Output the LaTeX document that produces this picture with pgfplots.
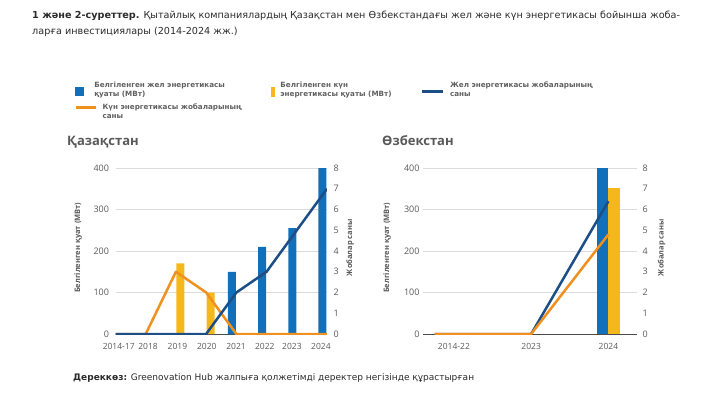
\documentclass[border=0pt]{standalone}
\usepackage{pgfplots}
\pgfplotsset{compat=1.18}
\usepackage{fontspec}
\setmainfont{Open Sans}
\newfontfamily\capfont{DejaVu Sans}
\definecolor{kblue}{HTML}{1170B9}
\definecolor{kyellow}{HTML}{F4B81C}
\definecolor{kdark}{HTML}{1D4F86}
\definecolor{korange}{HTML}{F0901F}
\definecolor{ktext}{HTML}{595959}
\definecolor{klgd}{HTML}{606060}
\definecolor{kcap}{HTML}{2B2B2B}
\newcommand{\lgd}[4][0bp]{\makebox[#2][l]{\hspace{#1}\begin{tabular}[t]{@{}l@{}}#3\\#4\end{tabular}}}
\pgfplotsset{
  base/.style={scale only axis, height=166bp, ymin=0,
    major tick length=0pt,
    tick label style={font=\fontsize{9bp}{10bp}\selectfont, text=ktext},
    xticklabel style={font=\fontsize{8.5bp}{10bp}\selectfont, yshift=-6bp},
    /pgf/number format/assume math mode=true,
    label style={font=\bfseries\fontsize{7.5bp}{9bp}\selectfont, text=ktext},
  },
  leftax/.style={base, ymax=400, ytick={0,100,200,300,400},
    ymajorgrids, grid style={draw=black!14, line width=0.7bp},
    axis x line*=bottom, axis y line*=left,
    y axis line style={draw=none},
    x axis line style={-, draw=black!70, line width=0.6bp},
  },
  rightax/.style={base, ymax=8, ytick={0,1,...,8},
    axis x line=none, axis y line*=right,
    y axis line style={draw=none},
  },
}
\begin{document}
\begin{tikzpicture}
\path[use as bounding box] (0,0) rectangle (727bp,-406bp);
\node[anchor=base west, inner sep=0, text=kcap, font=\capfont\fontsize{9.65bp}{12bp}\selectfont] at (32bp,-18bp)
 {\textbf{1 және 2-суреттер.} Қытайлық компаниялардың Қазақстан мен Өзбекстандағы жел және күн энергетикасы бойынша жоба-};
\node[anchor=base west, inner sep=0, text=kcap, font=\capfont\fontsize{9.65bp}{12bp}\selectfont] at (32bp,-34bp)
 {ларға инвестициялары (2014-2024 жж.)};
\node[anchor=base west, inner sep=0, text=ktext, font=\bfseries\fontsize{13bp}{15bp}\selectfont] at (67bp,-145bp) {Қазақстан};
\node[anchor=base west, inner sep=0, text=ktext, font=\bfseries\fontsize{13bp}{15bp}\selectfont] at (382bp,-145bp) {Өзбекстан};
\node[anchor=base west, inner sep=0, text=kcap, font=\capfont\fontsize{9bp}{11bp}\selectfont] at (73bp,-380bp)
 {\textbf{Дереккөз:} Greenovation Hub жалпыға қолжетімді деректер негізінде құрастырған};

% ---------- Kazakhstan ----------
\begin{axis}[leftax, at={(115.5bp,-334bp)}, anchor=south west, width=211.5bp,
  xmin=0, xmax=7, xtick={0.106,1.076,2.05,3.02,3.99,4.94,5.84,6.80},
  xticklabels={2014-17,2018,2019,2020,2021,2022,2023,2024},
  yticklabel style={xshift=-3bp},
  ylabel={Белгіленген қуат (МВт)},
  ylabel style={at={(axis description cs:-0.177,0.52)}, anchor=center},
  legend columns=3,
  legend style={at={(-0.1948,1.5229)}, anchor=north west, draw=none, fill=none,
    inner sep=0pt, outer sep=0pt, nodes={inner sep=0pt, outer sep=0pt},
    cells={anchor=base west},
    column sep=0pt, row sep=6.5bp,
    /tikz/every odd column/.append style={column sep=5.7bp},
    /tikz/every even column/.append style={column sep=0pt},
    font=\capfont\bfseries\fontsize{7.2bp}{9bp}\selectfont, text=klgd},
]
\addlegendimage{legend image code/.code={\fill[kblue] (0bp,-7.8bp) rectangle (8bp,0.2bp);}}
\addlegendentry{\lgd[-8.3bp]{168.3bp}{Белгіленген жел энергетикасы}{қуаты (МВт)}}
\addlegendimage{legend image code/.code={\fill[kyellow] (0bp,-9bp) rectangle (3.4bp,0bp);}}
\addlegendentry{\lgd{140.3bp}{Белгіленген күн}{энергетикасы қуаты (МВт)}}
\addlegendimage{legend image code/.code={\draw[kdark, line width=2.6bp] (0bp,-4bp) -- (21.1bp,-4bp);}}
\addlegendentry{\lgd{160bp}{Жел энергетикасы жобаларының}{саны}}
\addlegendimage{legend image code/.code={\draw[korange, line width=2.6bp] (0bp,2bp) -- (20bp,2bp);}}
\addlegendentry{\lgd{168.3bp}{Күн энергетикасы жобаларының}{саны}}
\addplot[forget plot, ybar, bar width=8bp, bar shift=-4.5bp, fill=kblue, draw=none]
  coordinates {(4,150) (5,210) (6,255) (7,400)};
\addplot[forget plot, ybar, bar width=8bp, bar shift=4.5bp, fill=kyellow, draw=none]
  coordinates {(2,170) (3,100)};
\end{axis}
\begin{axis}[rightax, at={(115.5bp,-334bp)}, anchor=south west, width=211.5bp,
  xmin=0, xmax=7,
  yticklabel style={xshift=3bp},
  ylabel={Жобалар саны},
  ylabel style={at={(axis description cs:1.109,0.52)}, anchor=center},
]
\addplot[korange, line width=2.5bp, line join=round] coordinates {(0,0) (1,0) (2,3) (3,2) (4,0) (5,0) (6,0) (7,0)};
\addplot[kdark, line width=2.5bp, line join=round] coordinates {(0,0) (1,0) (2,0) (3,0) (4,2) (5,3) (6,5) (7,7)};
\end{axis}

% ---------- Uzbekistan ----------
\begin{axis}[leftax, at={(423bp,-334bp)}, anchor=south west, width=214bp,
  xmin=-0.4, xmax=2.37, xtick={0,1,2},
  xticklabels={2014-22,2023,2024},
  ylabel={Белгіленген қуат (МВт)},
  ylabel style={at={(axis description cs:-0.168,0.52)}, anchor=center},
]
\addplot[ybar, bar width=11.2bp, bar shift=-5.6bp, fill=kblue, draw=none]
  coordinates {(2,400)};
\addplot[ybar, bar width=11.2bp, bar shift=5.6bp, fill=kyellow, draw=none]
  coordinates {(2,352)};
\end{axis}
\begin{axis}[rightax, at={(423bp,-334bp)}, anchor=south west, width=214bp,
  xmin=-0.4, xmax=2.37,
  yticklabel style={xshift=2bp},
  ylabel={Жобалар саны},
  ylabel style={at={(axis description cs:1.115,0.52)}, anchor=center},
]
\addplot[kdark, line width=2.5bp, line join=round] coordinates {(-0.25,0) (1,0) (2,6.4)};
\addplot[korange, line width=2.5bp, line join=round] coordinates {(-0.25,0) (1,0) (2,4.8)};
\end{axis}
\end{tikzpicture}
\end{document}
